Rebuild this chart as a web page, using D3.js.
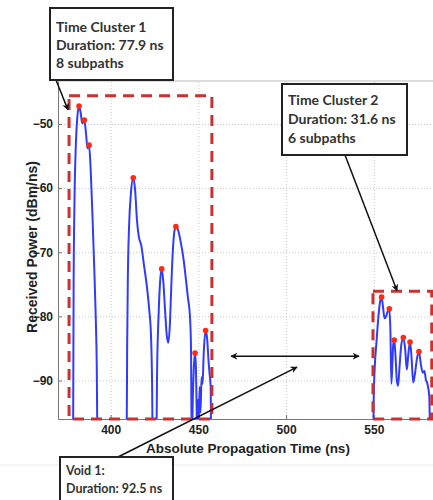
<!DOCTYPE html>
<meta charset="utf-8">
<style>
  body { margin: 0; padding: 0; background: #fff; }
  svg { display: block; }
  .tick text { font-family: "Liberation Sans", Arial, sans-serif; font-size: 12px; font-weight: bold; fill: #222; }
  .axis path, .axis line { stroke: #777; }
  .grid line { stroke: #c8c8c8; stroke-dasharray: 1,2; }
  .grid path { stroke-width: 0; }
  .note text { font-family: Lato, "Open Sans", sans-serif; font-weight: bold; fill: #333; }
</style>
<body>
<script src="https://cdn.jsdelivr.net/npm/d3@7/dist/d3.min.js"></script>
<script>
// power delay profile (time in ns, power in dBm/ns); -100 = below floor
var timeNs = [
  378.6, 378.9, 379.4, 380.2, 381.0, 382.0, 383.0, 383.8, 385.0, 386.0, 386.8, 387.7,
  388.6, 389.6, 390.6, 391.5, 392.1, 392.5,
  409.1, 409.4, 409.8, 410.5, 411.5, 412.9, 414.0, 415.0, 416.0, 417.5, 419.0, 420.5,
  422.0, 423.0, 423.6, 424.0,
  426.0, 426.5, 427.3, 428.2, 429.1, 430.0, 431.0, 432.0, 432.9, 433.8, 434.6, 435.5,
  436.3, 437.2, 438.5, 440.0, 441.5, 442.8, 444.0, 445.2, 445.8, 446.2,
  446.9, 447.5, 448.1, 448.6, 449.0, 449.3, 449.8, 450.2, 450.7, 451.2, 451.8, 452.4,
  453.0, 454.1, 455.0, 455.8, 456.4, 457.0, 457.3,
  549.6, 549.9, 550.5, 551.5, 552.6, 553.6, 554.4, 555.2, 556.1, 557.0, 557.8, 558.8,
  559.4, 560.0, 560.6, 561.0, 561.6, 562.3, 563.1, 563.8, 564.6, 565.6, 566.8, 567.8,
  568.8, 569.6, 570.6, 571.5, 572.4, 573.4, 574.6, 575.7, 576.8, 577.9, 578.8, 579.6,
  580.5, 581.6, 582.0
];
var powerDbm = [
  -100, -75, -62, -53, -49, -47.2, -48.4, -49.9, -49.4, -51.6, -53.8, -53.3,
  -57, -64, -72, -80, -88, -100,
  -100, -85, -74, -66, -61, -58.4, -60.5, -65, -67.5, -69, -72, -75,
  -79, -83, -90, -100,
  -100, -88, -80, -74.5, -72.6, -74.5, -79, -83, -84.1, -81, -75, -69.5,
  -66.8, -66.0, -66.6, -68.5, -71, -74, -77, -80, -85, -100,
  -92, -87.5, -85.7, -88, -94, -100, -93, -97, -91, -95, -89.5, -90.5,
  -86, -82.2, -83.5, -87, -89, -91, -100,
  -100, -93, -88, -84, -80, -77.6, -77.0, -78.5, -80.3, -80.0, -79.3, -78.8,
  -82, -90.5, -87, -84.5, -83.7, -86, -90, -90.8, -88, -84.5, -83.3, -85,
  -88.3, -86, -84.0, -86.5, -90.3, -89, -86.5, -85.5, -87.5, -88.8, -88.5, -89.8,
  -90.5, -92.5, -100
];

// detected subpaths (red dots)
var peakTimes = [382.0, 385.0, 387.7, 412.9, 429.1, 437.2, 448.1, 454.1,
                 554.4, 558.8, 561.6, 566.8, 570.6, 575.7];
var peakPower = [-47.2, -49.4, -53.3, -58.4, -72.6, -66.0, -85.7, -82.2,
                 -77.0, -78.8, -83.7, -83.3, -84.0, -85.5];

// time cluster extents
var clusterStart = [376.3, 549.5];
var clusterEnd = [457.7, 583.0];
var clusterTop = [-45.6, -76.1];

var xTicks = [400, 450, 500, 550];
var yTicks = [-90, -80, -70, -60, -50];

var W = 433, H = 500;
var plot = { left: 58, right: 433, top: 81, bottom: 419 };

var x = d3.scaleLinear().domain([370, 583.7]).range([plot.left, plot.right]);
var y = d3.scaleLinear().domain([-96, -43.3]).range([plot.bottom, plot.top]);

var svg = d3.select("body").append("svg")
    .attr("width", W)
    .attr("height", H);

var defs = svg.append("defs");
defs.append("clipPath").attr("id", "clip")
  .append("rect")
    .attr("x", plot.left).attr("y", plot.top)
    .attr("width", plot.right - plot.left).attr("height", plot.bottom - plot.top);

function arrowHead(id, orient) {
    defs.append("marker")
        .attr("id", id)
        .attr("viewBox", "0 0 10 10")
        .attr("refX", 9).attr("refY", 5)
        .attr("markerWidth", 7).attr("markerHeight", 7)
        .attr("markerUnits", "userSpaceOnUse")
        .attr("orient", orient)
      .append("path")
        .attr("d", "M0,0 L10,5 L0,10 L3,5 Z")
        .attr("fill", "#111");
}
arrowHead("arr", "auto");
arrowHead("arr2", "auto-start-reverse");

// faint figure edge line at the bottom
svg.append("line")
    .attr("x1", 0).attr("x2", W).attr("y1", 465).attr("y2", 465)
    .attr("stroke", "#ececec");

// grid
svg.append("g")
    .attr("class", "grid")
    .attr("transform", "translate(0," + plot.bottom + ")")
    .call(d3.axisBottom(x).tickValues(xTicks).tickSize(-(plot.bottom - plot.top)).tickFormat(""));
svg.append("g")
    .attr("class", "grid")
    .attr("transform", "translate(" + plot.left + ",0)")
    .call(d3.axisLeft(y).tickValues(yTicks).tickSize(-(plot.right - plot.left)).tickFormat(""));

// top box line
svg.append("line")
    .attr("x1", plot.left).attr("x2", plot.right)
    .attr("y1", plot.top).attr("y2", plot.top)
    .attr("stroke", "#bbb");

// axes
svg.append("g")
    .attr("class", "axis")
    .attr("transform", "translate(0," + plot.bottom + ")")
    .call(d3.axisBottom(x).tickValues(xTicks).tickSizeInner(-4).tickSizeOuter(0).tickPadding(6));
svg.append("g")
    .attr("class", "axis")
    .attr("transform", "translate(" + plot.left + ",0)")
    .call(d3.axisLeft(y).tickValues(yTicks).tickSizeInner(-4).tickSizeOuter(0).tickPadding(5));

svg.append("text")
    .attr("x", 248).attr("y", 453)
    .attr("text-anchor", "middle")
    .attr("font-family", "Liberation Sans, Arial, sans-serif")
    .attr("font-weight", "bold")
    .attr("font-size", "13.5px")
    .attr("fill", "#222")
    .text("Absolute Propagation Time (ns)");

svg.append("text")
    .attr("transform", "translate(37,247) rotate(-90)")
    .attr("text-anchor", "middle")
    .attr("font-family", "Liberation Sans, Arial, sans-serif")
    .attr("font-weight", "bold")
    .attr("font-size", "14px")
    .attr("fill", "#222")
    .text("Received Power (dBm/ns)");

// profile line
var line = d3.line()
    .x(function(d, i) { return x(timeNs[i]); })
    .y(function(d) { return y(d); })
    .curve(d3.curveMonotoneX);

svg.append("path")
    .datum(powerDbm)
    .attr("clip-path", "url(#clip)")
    .attr("d", line)
    .attr("fill", "none")
    .attr("stroke", "#2f3cff")
    .attr("stroke-width", 2)
    .attr("stroke-linejoin", "round");

svg.selectAll(".peak")
    .data(peakPower)
    .enter().append("circle")
    .attr("class", "peak")
    .attr("cx", function(d, i) { return x(peakTimes[i]); })
    .attr("cy", function(d) { return y(d); })
    .attr("r", 2.8)
    .attr("fill", "#ff2a10");

// cluster boxes
svg.selectAll(".cluster")
    .data(clusterStart)
    .enter().append("rect")
    .attr("class", "cluster")
    .attr("x", function(d) { return x(d); })
    .attr("y", function(d, i) { return y(clusterTop[i]); })
    .attr("width", function(d, i) { return x(clusterEnd[i]) - x(d); })
    .attr("height", function(d, i) { return plot.bottom - y(clusterTop[i]); })
    .attr("fill", "none")
    .attr("stroke", "#cc3030")
    .attr("stroke-width", 3)
    .attr("stroke-dasharray", "11,7");

// arrows
function arrow(x1, y1, x2, y2, both) {
    var l = svg.append("line")
        .attr("x1", x1).attr("y1", y1).attr("x2", x2).attr("y2", y2)
        .attr("stroke", "#111")
        .attr("stroke-width", 1.5)
        .attr("marker-end", "url(#arr)");
    if (both) l.attr("marker-start", "url(#arr2)");
}
arrow(56, 80, x(375.7), y(-47.8));
arrow(345, 155, x(563.2), y(-76.0));
arrow(x(468.6), y(-86.2), x(541.5), y(-86.2), true);
arrow(118, 457, x(506.2), y(-87.9));

// note boxes
function note(bx, by, bw, bh, lines, size, first, lineGap) {
    var g = svg.append("g").attr("class", "note");
    g.append("rect")
        .attr("x", bx).attr("y", by).attr("width", bw).attr("height", bh)
        .attr("fill", "#fff")
        .attr("stroke", "#222")
        .attr("stroke-width", 2);
    lines.forEach(function(t, i) {
        g.append("text")
            .attr("x", bx + 6)
            .attr("y", by + first + i * lineGap)
            .attr("font-size", size + "px")
            .text(t);
    });
}
note(50, 8, 123, 72, ["Time Cluster 1", "Duration: 77.9 ns", "8 subpaths"], 14, 24, 18);
note(282, 84, 125, 71, ["Time Cluster 2", "Duration: 31.6 ns", "6 subpaths"], 14, 21, 19);
note(60, 457, 113, 60, ["Void 1:", "Duration: 92.5 ns"], 12.5, 18, 18);
</script>
</body>
